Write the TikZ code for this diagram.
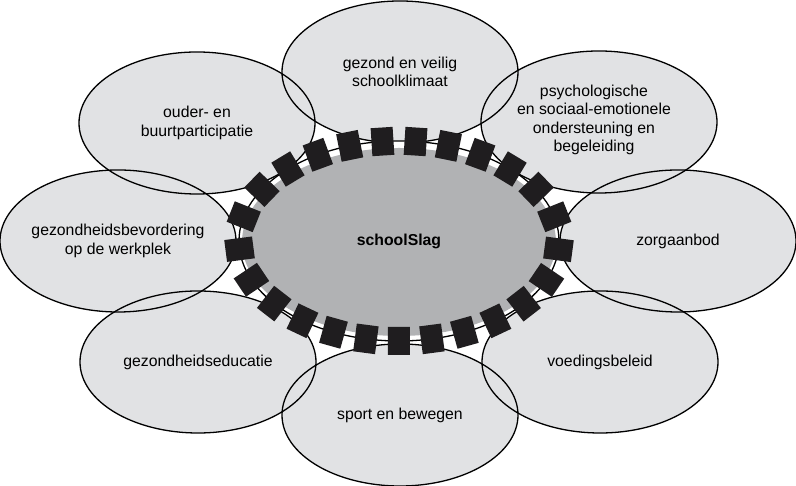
\documentclass[tikz,border=0pt]{standalone}
\usepackage{fontspec}
\setmainfont{Liberation Sans}
\usetikzlibrary{shapes.geometric,decorations.markings}
\definecolor{petal}{HTML}{E1E2E4}
\definecolor{hub}{HTML}{B1B2B4}
\definecolor{tile}{HTML}{1F1D1F}
\begin{document}
\begin{tikzpicture}[x=1pt,y=1pt,
  petal/.style={ellipse, fill=petal, minimum width=236pt, minimum height=142pt, inner sep=0pt},
  rim/.style={ellipse, draw=black, line width=1.3pt, minimum width=236pt, minimum height=142pt, inner sep=0pt},
  lbl/.style={align=center, inner sep=0pt, font=\fontsize{15.8}{18.5}\selectfont},
  hublbl/.style={align=center, inner sep=0pt, font=\fontsize{15.8}{18.5}\selectfont\bfseries},
]
\useasboundingbox (0,0) rectangle (796,486);
% petals: fills
\foreach \n/\x/\y in {klimaat/400/414, psych/599/364, zorg/678/245, voeding/600/124,
                      sport/400/71, educatie/198/124, werkplek/118/245, ouder/197/363}
  \node[petal] (\n) at (\x,\y) {};
% petals: outlines
\foreach \n in {klimaat, psych, zorg, voeding, sport, educatie, werkplek, ouder}
  \node[rim] (\n-rim) at (\n.center) {};
% labels
\node[lbl] (klimaat-txt) at (klimaat.center) {gezond en veilig\\schoolklimaat};
\node[lbl] (psych-txt) at ([xshift=-5pt,yshift=2pt]psych.center) {psychologische\\en sociaal-emotionele\\ondersteuning en\\begeleiding};
\node[lbl] (zorg-txt) at (zorg.center) {zorgaanbod};
\node[lbl] (voeding-txt) at (voeding.center) {voedingsbeleid};
\node[lbl] (sport-txt) at (sport.center) {sport en bewegen};
\node[lbl] (educatie-txt) at (educatie.center) {gezondheidseducatie};
\node[lbl] (werkplek-txt) at (werkplek.center) {gezondheidsbevordering\\op de werkplek};
\node[lbl] (ouder-txt) at (ouder.center) {ouder- en\\buurtparticipatie};
% hub
\fill[white] (399,245) ellipse (160 and 100);
\draw[black, line width=1.3pt] (399,245) ellipse (160 and 100);
\fill[hub] (399,244) ellipse (157 and 94);
\path[postaction={decorate},
  decoration={markings,
    mark=between positions 0.03 and 0.995 step 0.04 with
      {\fill[tile] (-11pt,-14pt) rectangle (11pt,14pt);}}]
  (399,245) ellipse (160 and 100);
\node[hublbl] (hub-txt) at (399,245) {schoolSlag};
\end{tikzpicture}
\end{document}
